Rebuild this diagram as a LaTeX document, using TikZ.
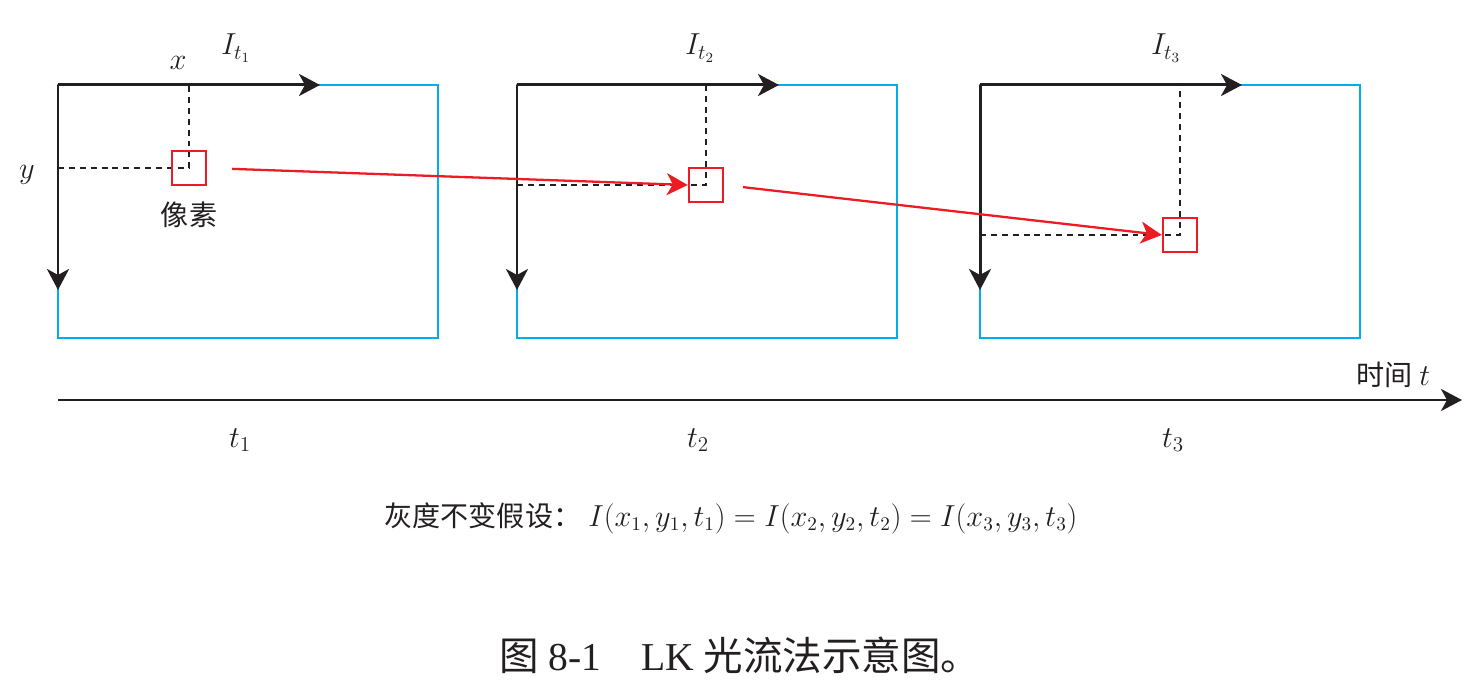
\documentclass[tikz,border=0pt]{standalone}
\usepackage{fontspec}
\setmainfont{Liberation Serif}
\newfontfamily\cjk{Noto Sans CJK SC}
\usetikzlibrary{arrows.meta}
\definecolor{framecyan}{RGB}{0,174,239}
\definecolor{pixred}{RGB}{237,28,36}
\definecolor{axisblack}{RGB}{35,31,32}
\tikzset{>={Stealth[length=0.42cm,width=0.44cm,inset=0.12cm]}}
\def\framew{380}
\def\frameh{253}

\begin{document}
\begin{tikzpicture}[x=0.02cm,y=-0.02cm,
  frame/.style={draw=framecyan,line width=1.5pt},
  axis/.style={->,draw=axisblack,line width=1.7pt},
  guide/.style={draw=axisblack,line width=1.4pt,dash pattern=on 3.4pt off 2.8pt},
  pixel/.style={draw=pixred,line width=1.4pt,minimum size=0.68cm,inner sep=0pt},
  flow/.style={->,draw=pixred,line width=1.3pt},
  lab/.style={inner sep=0pt,text=axisblack,font=\fontsize{17}{20}\selectfont}]
  \useasboundingbox (0,0) rectangle (1482,688);
  % three frames
  \foreach \n/\X/\px/\py/\lx/\tx in {1/58/189/168/236/240, 2/517/706/185/700/698, 3/980/1180/235/1166/1173} {
    \draw[frame] (\X,85) rectangle ++(\framew,\frameh);
    % image axes
    \coordinate (o\n) at (\X,85);
    \draw[axis] (o\n) -- ++(262,0);
    \draw[axis] (o\n) -- ++(0,205);
    % pixel and its coordinates
    \coordinate (c\n) at (\px,\py);
    \draw[guide] (o\n |- c\n) -- (c\n) -- (o\n -| c\n);
    \node[pixel] (p\n) at (c\n) {};
    \node[lab] (I\n) at (\lx,48) {$I_{t_{\n}}$};
    \node[lab] (t\n) at (\tx,440) {$t_{\n}$};
  }
  % axis names
  \node[lab] (xl) at (178,63) {$x$};
  \node[lab] (yl) at (27,175) {$y$};
  \node[lab,font=\fontsize{16}{19}\selectfont\cjk] (pl) at (189,215) {像素};
  % motion of the pixel
  \draw[flow,shorten <=0.5cm] (p1.east) -- (p2.west);
  \draw[flow,shorten <=0.38cm] (p2.east) -- (p3.west);
  % time axis
  \coordinate (ts) at (58,400);
  \coordinate (te) at (1462,400);
  \draw[axis] (ts) -- (te);
  \node[lab,font=\fontsize{16}{19}\selectfont] (tl) at (1393,375) {{\cjk 时间} $t$};
  % brightness constancy
  \node[lab,font=\fontsize{16}{19}\selectfont] (law) at (731,518) {{\cjk 灰度不变假设：}\ $I\bigl(x_1,y_1,t_1\bigr)=I\bigl(x_2,y_2,t_2\bigr)=I\bigl(x_3,y_3,t_3\bigr)$};
  % caption
  \node[lab,font=\fontsize{22.5}{27}\selectfont] (cap) at (740,655) {{\cjk 图} 8-1\quad LK {\cjk 光流法示意图。}};
\end{tikzpicture}
\end{document}
